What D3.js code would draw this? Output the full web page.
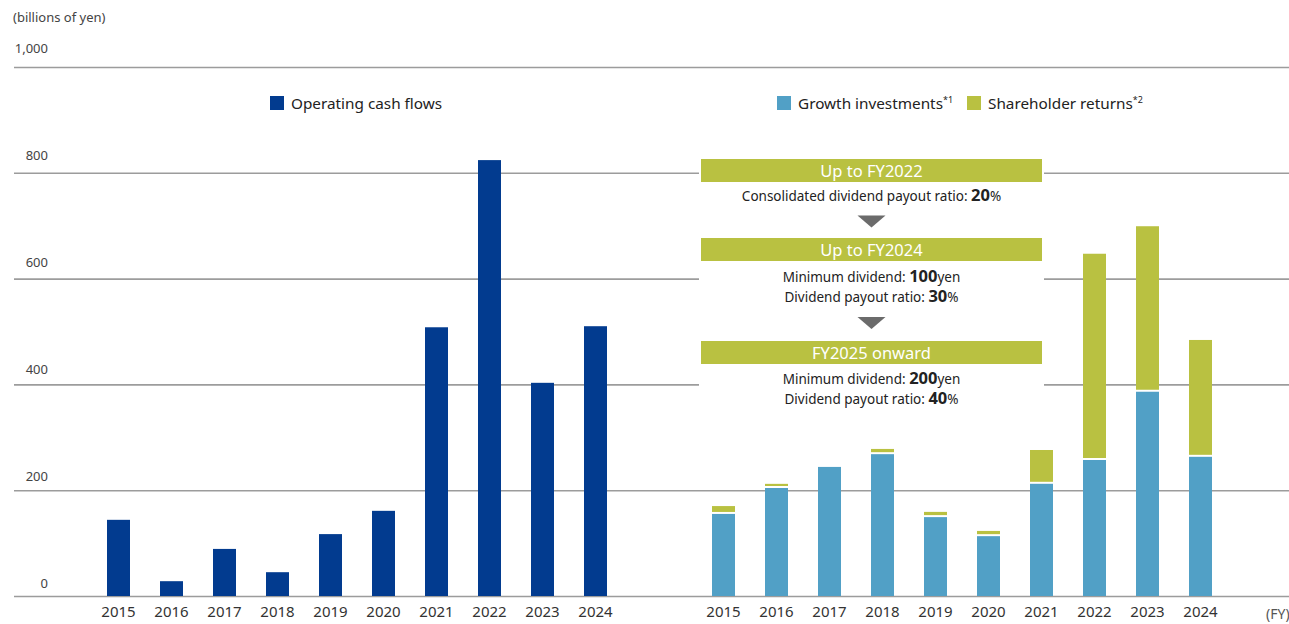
<!DOCTYPE html>
<html>
<head>
<meta charset="utf-8">
<script src="https://cdn.jsdelivr.net/npm/d3@7"></script>
<style>
  html, body { margin: 0; padding: 0; background: #fff; }
  svg { display: block; font-family: "Noto Sans", "Open Sans", sans-serif; }
</style>
</head>
<body>
<svg id="chart" width="1289" height="624"></svg>
<script>
// Fiscal years shown on both panels
const years = ["2015", "2016", "2017", "2018", "2019", "2020", "2021", "2022", "2023", "2024"];

// Operating cash flows (billions of yen)
const operatingCF = [144, 28, 89, 45, 117, 161, 508, 824, 403, 510];

// Cash allocation (billions of yen)
const growthInvest = [157, 206, 244, 270, 151, 115, 214, 259, 388, 265];
const shareholderReturns = [13, 6, 0, 8, 8, 8, 62, 388, 311, 219];

// Y axis ticks
const yTicks = [0, 200, 400, 600, 800, 1000];

const colors = {
  navy: "#023b8f",
  blue: "#51a0c6",
  olive: "#b9c141",
  grid: "#9c9c9c",
  text: "#333333"
};

const svg = d3.select("#chart");

const y = d3.scaleLinear().domain([0, 1000]).range([596, 67]);

const xLeft = d3.scaleBand().domain(years).range([92, 622])
  .paddingInner(0.566).paddingOuter(0.283);
const xRight = d3.scaleBand().domain(years).range([697, 1227])
  .paddingInner(0.566).paddingOuter(0.283);

// Unit label
svg.append("text")
  .attr("x", 13).attr("y", 22)
  .attr("font-size", 13).attr("fill", "#444")
  .text("(billions of yen)");

// Horizontal gridlines with tick labels sitting above each line
const yAxis = d3.axisLeft(y)
  .tickValues(yTicks)
  .tickSize(-(1289 - 14))
  .tickFormat(d3.format(","));

const gy = svg.append("g")
  .attr("transform", "translate(14,0)")
  .call(yAxis);
gy.select(".domain").remove();
gy.selectAll(".tick line")
  .attr("stroke", colors.grid)
  .attr("stroke-width", 1.6);
// labels drift slightly further above the line as values grow
gy.selectAll(".tick text")
  .attr("x", 34)
  .attr("dy", null)
  .attr("y", d => -(9 + d * 0.006))
  .attr("text-anchor", "end")
  .attr("font-size", 13)
  .attr("fill", "#444")
  .attr("font-family", "\"Noto Sans\", sans-serif");

// Operating cash flow bars
svg.append("g").selectAll("rect")
  .data(years.map((yr, i) => ({ yr, v: operatingCF[i] })))
  .join("rect")
  .attr("x", d => xLeft(d.yr))
  .attr("width", xLeft.bandwidth())
  .attr("y", d => y(d.v))
  .attr("height", d => y(0) - y(d.v))
  .attr("fill", colors.navy);

// Stacked allocation bars
const stackData = years.map((yr, i) => ({
  yr, growth: growthInvest[i], returns: shareholderReturns[i]
}));
const series = d3.stack().keys(["growth", "returns"])(stackData);
const fillFor = { growth: colors.blue, returns: colors.olive };

svg.append("g").selectAll("g")
  .data(series)
  .join("g")
  .attr("fill", s => fillFor[s.key])
  .selectAll("rect")
  .data(s => s.filter(d => d[1] > d[0]))
  .join("rect")
  .attr("x", d => xRight(d.data.yr))
  .attr("width", xRight.bandwidth())
  .attr("y", d => y(d[1]))
  .attr("height", d => y(d[0]) - y(d[1]));

// White separator between stacked segments
svg.append("g").selectAll("line")
  .data(stackData.filter(d => d.returns > 0))
  .join("line")
  .attr("x1", d => xRight(d.yr))
  .attr("x2", d => xRight(d.yr) + xRight.bandwidth())
  .attr("y1", d => y(d.growth))
  .attr("y2", d => y(d.growth))
  .attr("stroke", "#fff")
  .attr("stroke-width", 2);

// Year labels
function yearAxis(scale) {
  const g = svg.append("g")
    .attr("transform", "translate(0,600)")
    .call(d3.axisBottom(scale).tickSize(0).tickPadding(6));
  g.select(".domain").remove();
  g.selectAll(".tick text")
    .attr("font-size", 15)
    .attr("fill", colors.text)
    .attr("font-family", "\"Noto Sans\", sans-serif");
}
yearAxis(xLeft);
yearAxis(xRight);

svg.append("text")
  .attr("x", 1266).attr("y", 619)
  .attr("font-size", 14).attr("fill", "#555")
  .text("(FY)");

// Legends
function legendItem(x, color, label, sup) {
  svg.append("rect")
    .attr("x", x).attr("y", 96).attr("width", 14).attr("height", 14)
    .attr("fill", color);
  const t = svg.append("text")
    .attr("x", x + 21).attr("y", 108.5)
    .attr("font-size", 15.3).attr("fill", "#222")
    .text(label);
  if (sup) {
    t.append("tspan")
      .attr("font-size", 9)
      .attr("dy", -6)
      .text(sup);
  }
}
legendItem(270, colors.navy, "Operating cash flows");
legendItem(777, colors.blue, "Growth investments", "*1");
legendItem(967, colors.olive, "Shareholder returns", "*2");

// Dividend policy panel
const policy = svg.append("g");
policy.append("rect")
  .attr("x", 699).attr("y", 155).attr("width", 345).attr("height", 256)
  .attr("fill", "#fff");

const boxX = 701, boxW = 341, cx = boxX + boxW / 2;

function header(yTop, label) {
  policy.append("rect")
    .attr("x", boxX).attr("y", yTop).attr("width", boxW).attr("height", 23)
    .attr("fill", colors.olive);
  policy.append("text")
    .attr("x", cx).attr("y", yTop + 17.5)
    .attr("text-anchor", "middle")
    .attr("font-size", 16.5).attr("fill", "#fff")
    .text(label);
}

function line(yc, lead, num, unit) {
  const t = policy.append("text")
    .attr("x", cx).attr("y", yc + 5)
    .attr("text-anchor", "middle")
    .attr("font-size", 13.5).attr("fill", "#222");
  t.append("tspan").text(lead);
  t.append("tspan").attr("font-size", 16.5).attr("font-weight", "bold").text(num);
  t.append("tspan").text(unit);
}

function arrow(yTop) {
  policy.append("path")
    .attr("d", `M${cx - 14},${yTop} L${cx + 14},${yTop} L${cx},${yTop + 12} Z`)
    .attr("fill", "#6b6b6b");
}

header(159, "Up to FY2022");
line(196, "Consolidated dividend payout ratio: ", "20", "%");
arrow(215.5);
header(238, "Up to FY2024");
line(276.5, "Minimum dividend: ", "100", "yen");
line(296.5, "Dividend payout ratio: ", "30", "%");
arrow(317);
header(341, "FY2025 onward");
line(379, "Minimum dividend: ", "200", "yen");
line(399, "Dividend payout ratio: ", "40", "%");
</script>
</body>
</html>
